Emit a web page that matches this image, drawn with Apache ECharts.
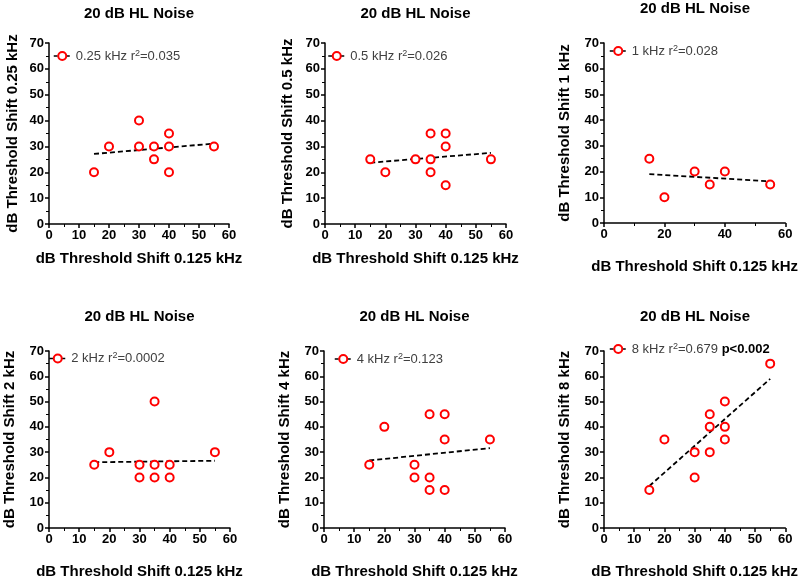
<!DOCTYPE html>
<html><head><meta charset="utf-8">
<script src="https://cdn.jsdelivr.net/npm/echarts@6/dist/echarts.min.js"></script>
<style>html,body{margin:0;padding:0;background:#fff}#c{width:800px;height:580px}</style>
</head><body><div id="c"></div>
<script>
// ---------- DATA ----------
const panelTitle = '20 dB HL Noise';
const xAxisName = 'dB Threshold Shift 0.125 kHz';
const yAxisNames = ['dB Threshold Shift 0.25 kHz','dB Threshold Shift 0.5 kHz','dB Threshold Shift 1 kHz',
                    'dB Threshold Shift 2 kHz','dB Threshold Shift 4 kHz','dB Threshold Shift 8 kHz'];
const legendNames = ['0.25 kHz r²=0.035','0.5 kHz r²=0.026','1 kHz r²=0.028',
                     '2 kHz r²=0.0002','4 kHz r²=0.123','8 kHz r²=0.679'];
const pValueText = 'p<0.002';

const x025 = [15,20,30,30,35,35,40,40,40,55];
const y025 = [20,30,40,30,30,25,35,30,20,30];
const fit025 = [[15,27.1],[55,31.1]];

const x05 = [15,20,30,35,35,35,40,40,40,55];
const y05 = [25,20,25,35,25,20,35,30,15,25];
const fit05 = [[15,23.7],[55,27.5]];

const x1k = [15,20,30,35,40,55];
const y1k = [25,10,20,15,20,15];
const fit1k = [[15,19.0],[55,16.2]];

const x2k = [15,20,30,30,35,35,35,40,40,55];
const y2k = [25,30,25,20,50,25,20,25,20,30];
const fit2k = [[15,26.0],[55,26.6]];

const x4k = [15,20,30,30,35,35,35,40,40,40,55];
const y4k = [25,40,25,20,45,20,15,45,35,15,35];
const fit4k = [[15,26.7],[55,31.6]];

const x8k = [15,20,30,30,35,35,35,40,40,40,55];
const y8k = [15,35,30,20,45,40,30,50,40,35,65];
const fit8k = [[15,16.6],[55,59.0]];

const xMin = 0, xMax = 60, yMin = 0, yMax = 70;

const panelsX = [x025, x05, x1k, x2k, x4k, x8k];
const panelsY = [y025, y05, y1k, y2k, y4k, y8k];
const panelsFit = [fit025, fit05, fit1k, fit2k, fit4k, fit8k];

// ---------- LAYOUT ----------
const FONT = '"Liberation Sans", Arial, sans-serif';
const layout = [
  {left:49,  top:43,  width:180, height:181, titleTop:6,   xGap:27, yGap:29, lgLeft:53,  lgTop:49,  xInt:10},
  {left:325, top:43,  width:181, height:181, titleTop:6,   xGap:27, yGap:30, lgLeft:327.5, lgTop:49, xInt:10},
  {left:604, top:43,  width:182, height:180, titleTop:1.5, xGap:36, yGap:32, lgLeft:609, lgTop:44,  xInt:20},
  {left:49,  top:351, width:181, height:181, titleTop:309, xGap:36, yGap:32, lgLeft:48.5, lgTop:351.5, xInt:10},
  {left:324, top:351, width:181, height:181, titleTop:309, xGap:36, yGap:32, lgLeft:334, lgTop:352, xInt:10},
  {left:604, top:351, width:182, height:181, titleTop:309, xGap:36, yGap:32, lgLeft:609, lgTop:342, xInt:10}
];

const axisCommon = {
  type:'value',
  nameLocation:'middle',
  nameTextStyle:{fontSize:15, fontWeight:'bold', color:'#000', fontFamily:FONT},
  axisLine:{show:true, onZero:false, lineStyle:{color:'#000', width:1.5}},
  axisTick:{show:true, length:4, lineStyle:{color:'#000', width:1.5}},
  minorTick:{show:true, splitNumber:2, length:3, lineStyle:{color:'#000', width:1}},
  splitLine:{show:false},
  minorSplitLine:{show:false},
  axisLabel:{fontSize:13, fontWeight:'bold', color:'#000', margin:5, fontFamily:FONT}
};

const option = {
  animation:false,
  backgroundColor:'#fff',
  title:[], grid:[], xAxis:[], yAxis:[], legend:[], series:[]
};

function legendLabel(name, withP) {
  const parts = name.split('²');
  let s = '{n|' + parts[0] + '}{s|2}{n|' + parts[1] + '}';
  if (withP) s += '{n| }{b|' + pValueText + '}';
  return s;
}

layout.forEach((L, i) => {
  option.grid.push({left:L.left, top:L.top, width:L.width, height:L.height, containLabel:false});
  option.title.push({
    text:panelTitle, left:L.left + L.width/2, top:L.titleTop, textAlign:'center', padding:0,
    textStyle:{fontSize:15, fontWeight:'bold', color:'#000', fontFamily:FONT}
  });
  option.xAxis.push(Object.assign({}, axisCommon, {
    gridIndex:i, min:xMin, max:xMax, interval:L.xInt, name:xAxisName, nameGap:L.xGap
  }));
  option.yAxis.push(Object.assign({}, axisCommon, {
    gridIndex:i, min:yMin, max:yMax, interval:10, name:yAxisNames[i], nameGap:L.yGap
  }));
  option.legend.push({
    data:[legendNames[i]], left:L.lgLeft, top:L.lgTop, padding:0,
    itemWidth:17, itemHeight:10, selectedMode:false,
    formatter: name => legendLabel(name, i === 5),
    textStyle:{fontSize:13, color:'#404040', fontFamily:FONT,
      rich:{
        n:{fontSize:13, color:'#404040', fontFamily:FONT, lineHeight:14},
        s:{fontSize:9, color:'#404040', fontFamily:FONT, verticalAlign:'top', lineHeight:8, padding:[0,0,0,0]},
        b:{fontSize:13, fontWeight:'bold', color:'#000', fontFamily:FONT, lineHeight:14}
      }},
    lineStyle:{color:'#000', width:1.5, type:[4,2], opacity:1}
  });
  option.series.push({
    type:'line', name:legendNames[i], xAxisIndex:i, yAxisIndex:i,
    data:panelsX[i].map((v,k) => [v, panelsY[i][k]]),
    symbol:'emptyCircle', symbolSize:8,
    itemStyle:{color:'#ff0000', borderWidth:2},
    lineStyle:{opacity:0, width:0},
    z:3, silent:true
  });
  option.series.push({
    type:'line', name:'fit' + i, xAxisIndex:i, yAxisIndex:i,
    data:panelsFit[i], symbol:'none',
    lineStyle:{color:'#000', width:1.8, type:[5,3]},
    z:2, silent:true
  });
});

const chart = echarts.init(document.getElementById('c'), null, {renderer:'canvas'});
chart.setOption(option);
</script>
</body></html>
